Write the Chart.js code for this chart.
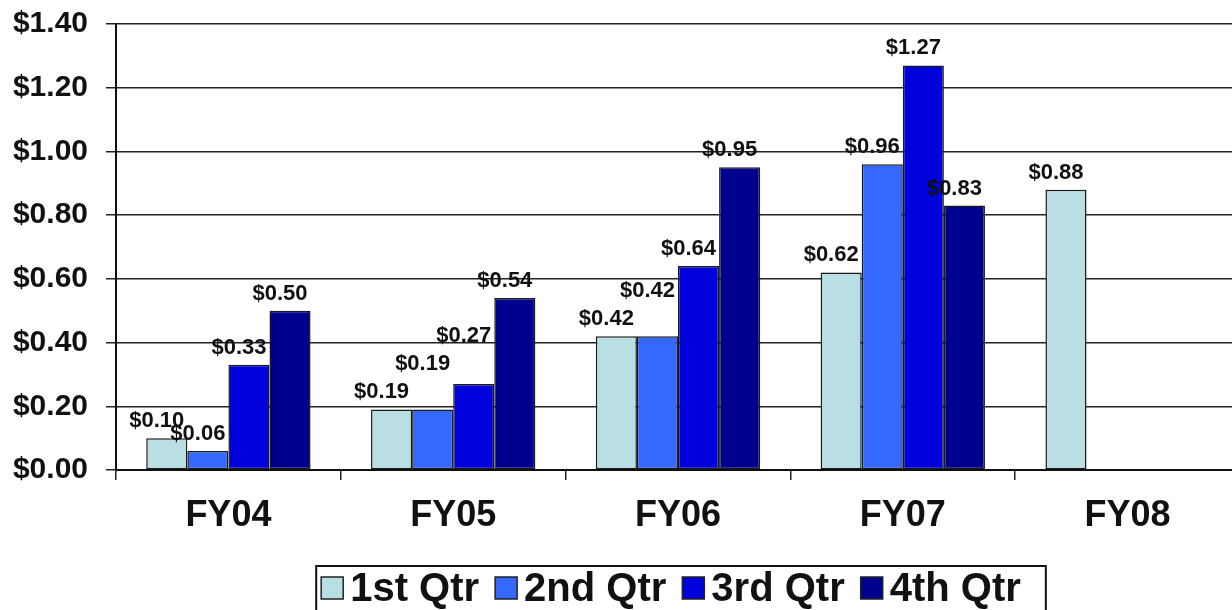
<!DOCTYPE html>
<html lang="en">
<head>
<meta charset="UTF-8">
<title>Quarterly EPS FY04 - FY08</title>
<script src="https://cdn.jsdelivr.net/npm/chart.js"></script>
<style>
  html, body { margin: 0; padding: 0; background: #fff; overflow: hidden; }
  canvas { display: block; }
</style>
</head>
<body>
<canvas id="epsChart" width="1242" height="610"></canvas>

<script>
    // Fiscal years along the x axis
    const years = ['FY04', 'FY05', 'FY06', 'FY07', 'FY08'];

    // Earnings per share for each quarter (FY08 only has the 1st quarter)
    const q1 = [0.10, 0.19, 0.42, 0.62, 0.88];
    const q2 = [0.06, 0.19, 0.42, 0.96, null];
    const q3 = [0.33, 0.27, 0.64, 1.27, null];
    const q4 = [0.50, 0.54, 0.95, 0.83, null];

    const quarterNames = ['1st Qtr', '2nd Qtr', '3rd Qtr', '4th Qtr'];
    const quarterColors = ['#b9dee3', '#3468ff', '#0000dc', '#00008f'];

    // y axis range ($0.00 to $1.40 in steps of $0.20)
    const yMin = 0;
    const yMax = 1.4;
    const yStep = 0.2;

    const FONT = "'Liberation Sans', Arial, sans-serif";
    const money = v => '$' + v.toFixed(2);

    // Dollar labels above every bar; a label that would sit right on top of
    // its left neighbour in the same year is lifted above it
    const valueLabels = {
        id: 'valueLabels',
        afterDatasetsDraw(chart) {
            const ctx = chart.ctx;
            ctx.save();
            ctx.font = 'bold 22px ' + FONT;
            ctx.fillStyle = '#111';
            ctx.textAlign = 'center';
            ctx.textBaseline = 'alphabetic';
            const capH = 16;
            chart.data.labels.forEach((_, j) => {
                let prev = null;
                chart.data.datasets.forEach((ds, i) => {
                    const v = ds.data[j];
                    if (v === null || v === undefined) return;
                    const bar = chart.getDatasetMeta(i).data[j];
                    const w = ctx.measureText(money(v)).width;
                    const x = bar.x - 10;
                    let y = bar.y - 11;
                    if (prev && x - w / 2 < prev.right + 2 &&
                        y - capH < prev.y - 8 && y > prev.y - capH) {
                        y = prev.y - capH - 12;
                    }
                    ctx.fillText(money(v), x, y);
                    prev = { right: x + w / 2, y: y };
                });
            });
            ctx.restore();
        }
    };

    // Boxed legend under the axis, like the spreadsheet original
    const boxedLegend = {
        id: 'boxedLegend',
        afterDraw(chart) {
            const ctx = chart.ctx;
            const area = chart.chartArea;
            const sq = 22, gap = 7, between = 16;
            ctx.save();
            ctx.font = 'bold 40px ' + FONT;
            const widths = chart.data.datasets.map(ds => ctx.measureText(ds.label).width);
            const total = widths.reduce((a, b) => a + b, 0)
                + widths.length * (sq + gap) + between * (widths.length - 1);
            let x = (area.left + area.right) / 2 - total / 2 - 7;
            const midY = 588;

            ctx.lineWidth = 2;
            ctx.strokeStyle = '#111';
            ctx.strokeRect(x - 5, 566, total + 30, 60);

            ctx.textAlign = 'left';
            ctx.textBaseline = 'middle';
            chart.data.datasets.forEach((ds, i) => {
                ctx.fillStyle = ds.backgroundColor;
                ctx.fillRect(x, midY - sq / 2, sq, sq);
                ctx.lineWidth = 1.5;
                ctx.strokeStyle = '#222';
                ctx.strokeRect(x, midY - sq / 2, sq, sq);
                ctx.fillStyle = '#111';
                ctx.fillText(ds.label, x + sq + gap, midY + 2);
                x += sq + gap + widths[i] + between;
            });
            ctx.restore();
        }
    };

    const series = [q1, q2, q3, q4];
    const datasets = series.map((values, i) => ({
        label: quarterNames[i],
        data: values,
        backgroundColor: quarterColors[i],
        borderColor: '#1a1a1a',
        borderWidth: 1.5,
        borderSkipped: false,
        barPercentage: 1.0,
        categoryPercentage: 0.731
    }));

    const ctx = document.getElementById('epsChart').getContext('2d');
    const epsChart = new Chart(ctx, {
        type: 'bar',
        data: { labels: years, datasets: datasets },
        options: {
            responsive: false,
            animation: false,
            layout: { padding: { left: 0, right: 2, top: 24, bottom: 44 } },
            plugins: {
                legend: { display: false },
                tooltip: { enabled: false }
            },
            scales: {
                x: {
                    offset: true,
                    border: { display: true, color: '#111', width: 2 },
                    grid: {
                        offset: true,
                        drawOnChartArea: false,
                        drawTicks: true,
                        tickLength: 10,
                        color: '#222',
                        lineWidth: 1.5
                    },
                    ticks: {
                        color: '#111',
                        padding: 14,
                        font: { family: FONT, size: 36, weight: 'bold' }
                    },
                    afterFit(scale) {
                        scale.height = 96;
                        scale.paddingLeft = 0;
                        scale.paddingRight = 0;
                    }
                },
                y: {
                    min: yMin,
                    max: yMax,
                    border: { display: true, color: '#111', width: 2 },
                    grid: {
                        color: '#222',
                        lineWidth: 1.5,
                        drawTicks: true,
                        tickLength: 10
                    },
                    ticks: {
                        stepSize: yStep,
                        color: '#111',
                        padding: 18,
                        font: { family: FONT, size: 30, weight: 'bold' },
                        callback: v => money(v)
                    },
                    afterFit(scale) {
                        scale.width = 116;
                        scale.paddingTop = 0;
                        scale.paddingBottom = 0;
                    }
                }
            }
        },
        plugins: [valueLabels, boxedLegend]
    });
</script>
</body>
</html>
